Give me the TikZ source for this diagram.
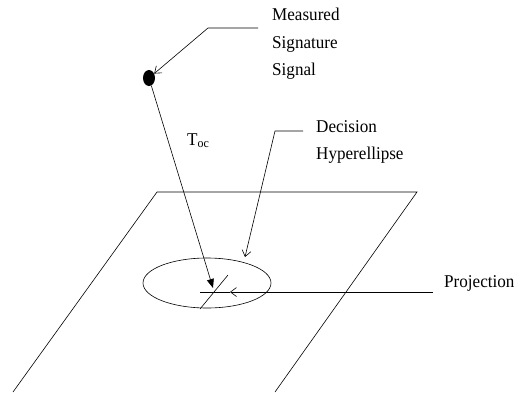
\documentclass[tikz,border=0pt]{standalone}
\usepackage{fontspec}
\setmainfont[FakeStretch=0.95]{Liberation Serif}
\usetikzlibrary{arrows.meta,shapes.geometric}

\begin{document}
\begin{tikzpicture}[x=1pt, y=-1pt,
  every node/.style={inner sep=0pt, font=\fontsize{18}{27.5}\selectfont},
  line/.style={line width=0.6pt},
  dot/.style={ellipse, fill=black, minimum width=12pt, minimum height=16pt},
  open/.style={line, -{Straight Barb[length=6pt, width=9pt]}},
  filled/.style={line, -{Triangle[length=9pt, width=7pt]}},
  lbl/.style={align=left, anchor=north west}
]
\useasboundingbox (0,0) rectangle (524,392);
\draw[line] (13,392) -- (157,192) -- (417,192) -- (275,392);
\node[draw, line, ellipse, minimum width=128pt, minimum height=50pt] (hyp) at (207,283) {};
\node[dot] (sig) at (149,78) {};
\node[lbl] (meas) at (272,8) {Measured\\Signature\\Signal};
\node[lbl] (dec) at (316,120) {Decision\\Hyperellipse};
\node[anchor=base west] (proj) at (444,287) {Projection};
\node[anchor=base west] (toc) at (187,145) {T\textsubscript{oc}};
\coordinate (m1) at (258,28);
\coordinate (m2) at (208,28);
\coordinate (d1) at (303,131);
\coordinate (d2) at (275,131);
\coordinate (dtip) at (245,257);
\coordinate (ptip) at (213,288);
\coordinate (p1) at (433,292);
\coordinate (pmark) at (230,292);
\coordinate (pfoot) at (200,292);
\coordinate (s1) at (200,309);
\coordinate (s2) at (228,275);
\draw[open] (m1) -- (m2) -- (sig);
\draw[open] (d1) -- (d2) -- (dtip);
\draw[filled] (sig) -- (ptip);
\draw[open] (p1) -- (pmark);
\draw[line] (pmark) -- (pfoot);
\draw[line] (s1) -- (s2);
\end{tikzpicture}
\end{document}
